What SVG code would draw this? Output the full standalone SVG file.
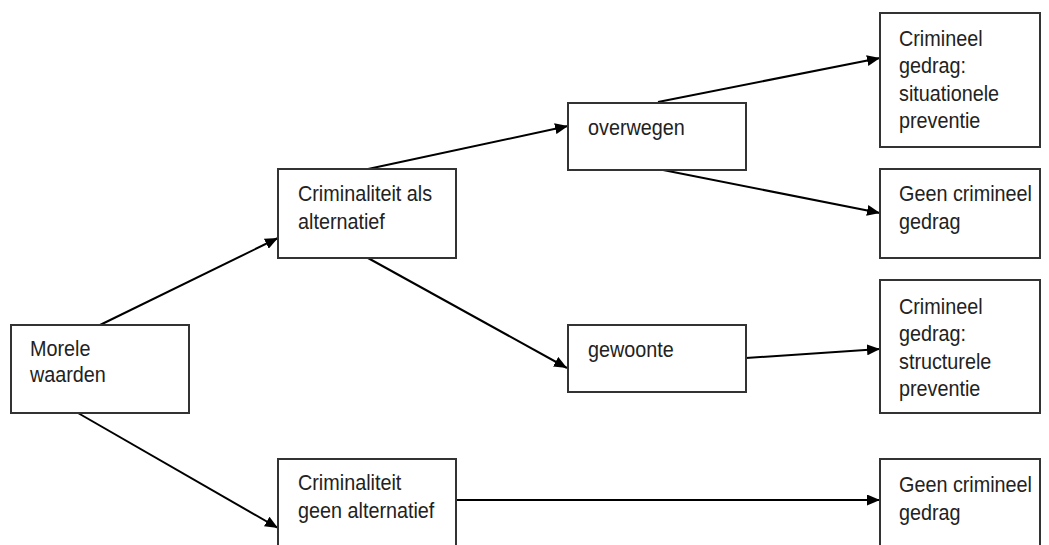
<svg xmlns="http://www.w3.org/2000/svg" width="1049" height="545" viewBox="0 0 1049 545">
<defs>
<style>
.box{fill:#fff;stroke:#333;stroke-width:2}
.t{font-family:"Liberation Sans",Arial,sans-serif;font-size:22px;fill:#222}
.c{stroke:#000;stroke-width:2;fill:none;marker-end:url(#ah)}
</style>
<marker id="ah" markerWidth="13" markerHeight="11" refX="13" refY="5.5" orient="auto" markerUnits="userSpaceOnUse">
<path d="M0,0 L13,5.5 L0,11 Z" fill="#000"/>
</marker>
</defs>
<rect width="1049" height="545" fill="#fff"/>
<g id="connectors">
<line class="c" x1="100" y1="325" x2="278" y2="238"/>
<line class="c" x1="78" y1="413" x2="278" y2="528"/>
<line class="c" x1="368" y1="169" x2="568" y2="126"/>
<line class="c" x1="368" y1="258" x2="567" y2="368"/>
<line class="c" x1="658" y1="102" x2="880" y2="58"/>
<line class="c" x1="658" y1="169" x2="880" y2="213"/>
<line class="c" x1="746" y1="358" x2="880" y2="349"/>
<line class="c" x1="455" y1="500" x2="880" y2="500"/>
</g>
<g id="morele">
<rect class="box" x="11" y="325" width="178" height="88"/>
<g transform="translate(30,0) scale(0.9,1)"><text class="t" y="356">Morele</text><text class="t" y="382">waarden</text></g>
</g>
<g id="crim-als">
<rect class="box" x="278" y="169" width="178" height="89"/>
<g transform="translate(298,0) scale(0.9,1)"><text class="t" y="201">Criminaliteit als</text><text class="t" y="229">alternatief</text></g>
</g>
<g id="overwegen">
<rect class="box" x="568" y="103" width="178" height="67"/>
<g transform="translate(588,0) scale(0.9,1)"><text class="t" y="135">overwegen</text></g>
</g>
<g id="gewoonte">
<rect class="box" x="568" y="325" width="178" height="67"/>
<g transform="translate(588,0) scale(0.9,1)"><text class="t" y="357">gewoonte</text></g>
</g>
<g id="crim-geen">
<rect class="box" x="278" y="459" width="178" height="100"/>
<g transform="translate(298,0) scale(0.9,1)"><text class="t" y="490">Criminaliteit</text><text class="t" y="518">geen alternatief</text></g>
</g>
<g id="situationele">
<rect class="box" x="880" y="13" width="160" height="134"/>
<g transform="translate(899,0) scale(0.9,1)"><text class="t" y="46">Crimineel</text><text class="t" y="73">gedrag:</text><text class="t" y="101">situationele</text><text class="t" y="128">preventie</text></g>
</g>
<g id="geen1">
<rect class="box" x="880" y="169" width="160" height="89"/>
<g transform="translate(899,0) scale(0.9,1)"><text class="t" y="201">Geen crimineel</text><text class="t" y="229">gedrag</text></g>
</g>
<g id="structurele">
<rect class="box" x="880" y="280" width="160" height="133"/>
<g transform="translate(899,0) scale(0.9,1)"><text class="t" y="314">Crimineel</text><text class="t" y="341">gedrag:</text><text class="t" y="369">structurele</text><text class="t" y="396">preventie</text></g>
</g>
<g id="geen2">
<rect class="box" x="880" y="459" width="160" height="100"/>
<g transform="translate(899,0) scale(0.9,1)"><text class="t" y="492">Geen crimineel</text><text class="t" y="520">gedrag</text></g>
</g>
</svg>
